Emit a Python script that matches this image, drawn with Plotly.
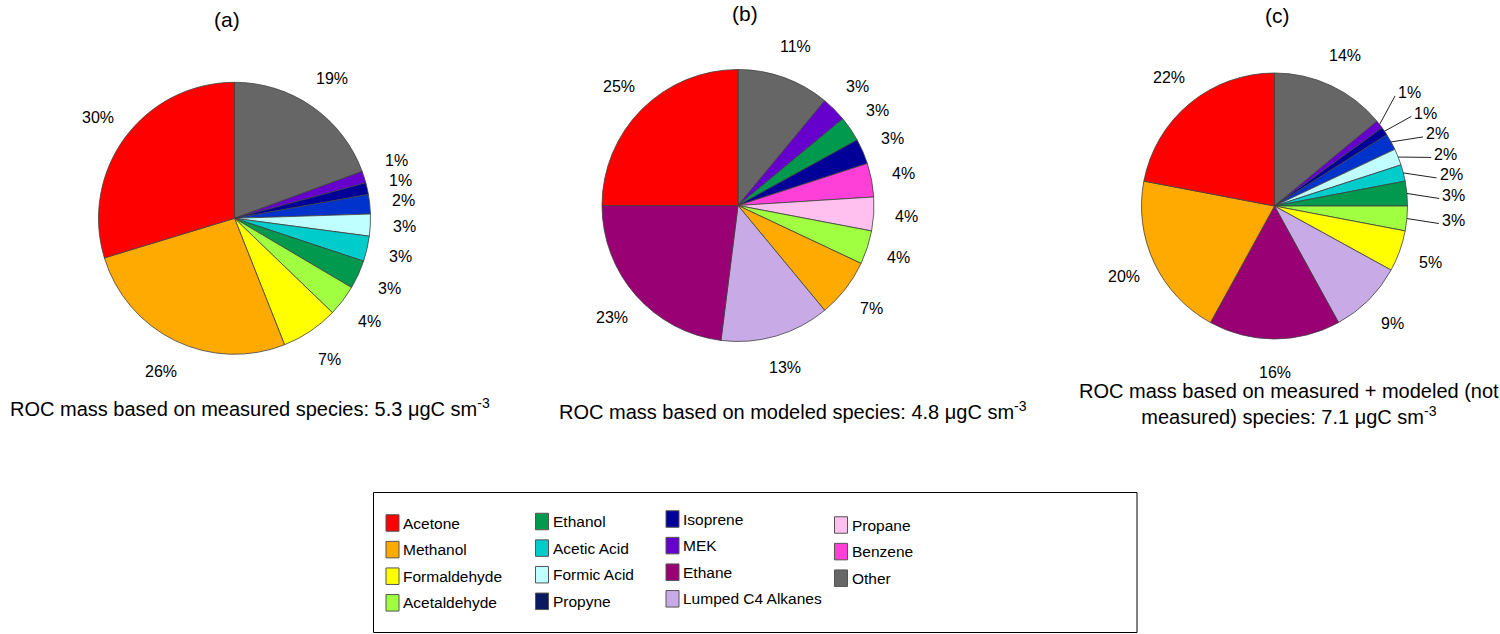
import math
import plotly.graph_objects as go

W, H = 1500, 634
FONT = "Liberation Sans, Arial, sans-serif"

# ---------------- data ----------------
COLORS = {
    "Acetone": "#FF0000",
    "Methanol": "#FFAA00",
    "Formaldehyde": "#FFFF00",
    "Acetaldehyde": "#A0FF40",
    "Ethanol": "#00994D",
    "Acetic Acid": "#00CCCC",
    "Formic Acid": "#C0FFFF",
    "Propyne": "#0A1A60",
    "Isoprene": "#000099",
    "MEK": "#6600CC",
    "Ethane": "#990073",
    "Lumped C4 Alkanes": "#C8AAE6",
    "Propane": "#FFC0F0",
    "Benzene": "#FF40D8",
    "Other": "#666666",
}
PROPYNE_SLICE_COLOR = "#0033CC"

# slices listed clockwise from 12 o'clock (percent of ROC mass)
a_labels = ["Other", "MEK", "Isoprene", "Propyne", "Formic Acid", "Acetic Acid",
            "Ethanol", "Acetaldehyde", "Formaldehyde", "Methanol", "Acetone"]
a_values = [19.4, 1.4, 1.4, 2.3, 2.6, 3.0, 3.4, 3.7, 6.8, 26.3, 29.7]

b_labels = ["Other", "MEK", "Ethanol", "Isoprene", "Benzene", "Propane",
            "Acetaldehyde", "Methanol", "Lumped C4 Alkanes", "Ethane", "Acetone"]
b_values = [11, 3, 3, 3, 4, 4, 4, 7, 13, 23, 25]

c_labels = ["Other", "MEK", "Isoprene", "Propyne", "Formic Acid", "Acetic Acid",
            "Ethanol", "Acetaldehyde", "Formaldehyde", "Lumped C4 Alkanes",
            "Ethane", "Methanol", "Acetone"]
c_values = [14, 1, 1, 2, 2, 2, 3, 3, 5, 9, 16, 20, 22]

titles = ["(a)", "(b)", "(c)"]
captions = [
    "ROC mass based on measured species: 5.3 μgC sm<sup>-3</sup>",
    "ROC mass based on modeled species: 4.8 μgC sm<sup>-3</sup>",
    "ROC mass based on measured + modeled (not<br>measured) species: 7.1 μgC sm<sup>-3</sup>",
]

legend_columns = [
    ["Acetone", "Methanol", "Formaldehyde", "Acetaldehyde"],
    ["Ethanol", "Acetic Acid", "Formic Acid", "Propyne"],
    ["Isoprene", "MEK", "Ethane", "Lumped C4 Alkanes"],
    ["Propane", "Benzene", "Other"],
]

# ---------------- layout (pixels of the page) ----------------
pies = [
    dict(labels=a_labels, values=a_values, cx=234.5, cy=218.3, r=136, lr=1.25,
         title_xy=(227, 19), cap_xy=(250, 407), spread=[1, 2, 3, 4, 5, 6, 7, 8], leader=[]),
    dict(labels=b_labels, values=b_values, cx=738, cy=205.5, r=136, lr=1.24,
         title_xy=(745, 14), cap_xy=(793, 410), spread=[], leader=[]),
    dict(labels=c_labels, values=c_values, cx=1274.5, cy=206, r=133, lr=1.25,
         title_xy=(1277, 16), cap_xy=(1289, 404), spread=[], leader=[1, 2, 3, 4, 5, 6, 7]),
]


def px(x):
    return x / W


def py(y):
    return 1 - y / H


def fmt(v):
    return f"{int(v + 0.5)}%"


fig = go.Figure()
annotations = []
shapes = []

for p in pies:
    cx, cy, r = p["cx"], p["cy"], p["r"]
    cols = [PROPYNE_SLICE_COLOR if l == "Propyne" else COLORS[l] for l in p["labels"]]
    fig.add_trace(go.Pie(
        labels=p["labels"], values=p["values"], sort=False, direction="clockwise",
        rotation=0, textinfo="none", showlegend=False,
        marker=dict(colors=cols, line=dict(color="#404040", width=0.8)),
        domain=dict(x=[px(cx - r), px(cx + r)], y=[py(cy + r), py(cy - r)]),
        hovertemplate="%{label}: %{value}%<extra></extra>",
    ))

    vals = p["values"]
    tot = sum(vals)
    mids = []
    cum = 0
    for v in vals:
        mids.append(2 * math.pi * (cum + v / 2) / tot)
        cum += v

    # radial label positions
    R = p["lr"] * r
    lx = [cx + R * math.sin(th) for th in mids]
    ly = [cy - R * math.cos(th) for th in mids]
    sp = p["spread"]
    for k in range(len(sp) - 2, -1, -1):
        ly[sp[k]] = min(ly[sp[k]], ly[sp[k + 1]] - 20)

    for i, v in enumerate(vals):
        if i in p["leader"]:
            continue
        annotations.append(dict(
            x=px(lx[i]), y=py(ly[i]),
            xref="paper", yref="paper", text=fmt(v), showarrow=False,
            font=dict(family=FONT, size=16, color="black"),
            xanchor="center", yanchor="middle"))

    # labels with leader lines, spread vertically
    if p["leader"]:
        idx = p["leader"]
        nat = [cy - r * math.cos(mids[i]) + 2 for i in idx]
        ys = nat[:]
        gap = 20.5
        for k in range(len(idx) - 2, -1, -1):
            ys[k] = min(nat[k], ys[k + 1] - gap)
        Rl = 166
        for k, i in enumerate(idx):
            yy = ys[k]
            xx = cx + math.sqrt(max(Rl ** 2 - (yy - cy) ** 2, 0))
            ex, ey = cx + r * math.sin(mids[i]), cy - r * math.cos(mids[i])
            shapes.append(dict(type="line", xref="paper", yref="paper",
                               x0=px(ex), y0=py(ey), x1=px(xx - 1), y1=py(yy + 3),
                               line=dict(color="#222222", width=1)))
            annotations.append(dict(
                x=px(xx), y=py(yy), xref="paper", yref="paper", text=fmt(vals[i]),
                showarrow=False, font=dict(family=FONT, size=16, color="black"),
                xanchor="left", yanchor="middle"))

# titles and captions
for p, t, c in zip(pies, titles, captions):
    annotations.append(dict(x=px(p["title_xy"][0]), y=py(p["title_xy"][1]),
                            xref="paper", yref="paper", text=t, showarrow=False,
                            font=dict(family=FONT, size=21, color="black"),
                            xanchor="center", yanchor="middle"))
    annotations.append(dict(x=px(p["cap_xy"][0]), y=py(p["cap_xy"][1]),
                            xref="paper", yref="paper", text=c, showarrow=False,
                            font=dict(family=FONT, size=20, color="black"),
                            xanchor="center", yanchor="middle", align="center"))

# legend (drawn in four columns)
box = dict(x0=373.5, x1=1137, y0=492.5, y1=632.5)
shapes.append(dict(type="rect", xref="paper", yref="paper",
                   x0=px(box["x0"]), x1=px(box["x1"]), y0=py(box["y1"]), y1=py(box["y0"]),
                   line=dict(color="black", width=1), fillcolor="rgba(0,0,0,0)"))
col_x = [386, 535.5, 666, 834.5]
col_y0 = [523, 521.5, 519, 525]
row_gap = 26.6
sw_w, sw_h = 13, 16.5
for ci, names in enumerate(legend_columns):
    for ri, name in enumerate(names):
        yc = col_y0[ci] + ri * row_gap
        x0 = col_x[ci]
        shapes.append(dict(type="rect", xref="paper", yref="paper",
                           x0=px(x0), x1=px(x0 + sw_w), y0=py(yc + sw_h / 2), y1=py(yc - sw_h / 2),
                           line=dict(color="#555555", width=1), fillcolor=COLORS[name]))
        annotations.append(dict(x=px(x0 + sw_w + 2), y=py(yc), xref="paper", yref="paper",
                                text=name, showarrow=False,
                                font=dict(family=FONT, size=15.5, color="black"),
                                xanchor="left", yanchor="middle"))

fig.update_layout(
    width=W, height=H, margin=dict(l=0, r=0, t=0, b=0),
    paper_bgcolor="white", plot_bgcolor="white",
    annotations=annotations, shapes=shapes, showlegend=False,
)

fig.write_html("out.html", config={"displayModeBar": False},
               post_script="document.body.style.margin='0';document.body.style.overflow='hidden';")
